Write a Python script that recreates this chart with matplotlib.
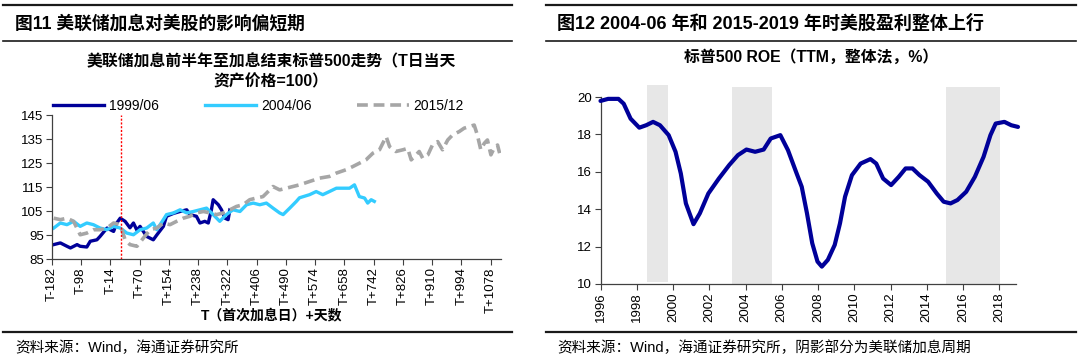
# 美联储加息与美股：标普500走势 & ROE
import matplotlib
matplotlib.use("Agg")
import matplotlib.pyplot as plt
from matplotlib.lines import Line2D

plt.rcParams['font.family'] = ['Liberation Sans', 'Noto Sans CJK SC', 'DejaVu Sans']
plt.rcParams['axes.unicode_minus'] = False

# ---- 左图数据: T日 = 100 ----
t_1999 = [-177, -158, -139, -129, -110, -101, -82, -72, -53, -44, -24, -5, 4, 14, 28, 42, 52, 62, 71,
          90, 109, 119, 138, 147, 167, 186, 205, 214, 233, 243, 257, 267, 276, 281, 296, 305, 315, 324, 329]
v_1999 = [91, 91.7, 90.3, 89.6, 91, 90.3, 90, 92.4, 93, 94.4, 97.9, 96.5, 100, 102, 100.7, 98, 100, 97, 98.6,
          94.4, 93, 95, 98.6, 102.8, 104, 104.8, 105.5, 103.5, 102.8, 100, 100.7, 100, 105.5, 109.7, 107.6,
          105.5, 102, 101.4, 105.5]

t_2004 = [-177, -158, -139, -120, -101, -82, -63, -44, -24, -5, 14, 33, 52, 71, 90, 109, 119, 138, 147, 167,
          186, 205, 224, 243, 262, 281, 300, 319, 338, 358, 377, 396, 415, 434, 453, 472, 482, 501, 520, 529,
          549, 558, 577, 596, 615, 635, 654, 673, 687, 701, 716, 725, 735, 744]
v_2004 = [97.9, 100, 99.3, 100.7, 98.6, 100, 99.3, 97.9, 97.2, 98.6, 97.9, 95.8, 95.1, 97.2, 97.9, 100, 97.2,
          101.4, 103.5, 104.2, 105.5, 104.2, 104.8, 105.5, 106.2, 103.5, 100.7, 103.5, 105.5, 104.8, 107.6,
          108.3, 107.6, 108.3, 106.2, 104.2, 103.5, 106.2, 109, 110.5, 111.4, 111.8, 113.1, 111.8, 113.1,
          114.5, 114.5, 114.5, 115.9, 111, 110.4, 108.3, 109.7, 109]

t_2015 = [-177, -158, -139, -120, -101, -82, -63, -44, -24, -5, 14, 28, 42, 62, 81, 100, 119, 138, 157, 176,
          195, 214, 233, 253, 272, 291, 310, 329, 348, 367, 386, 405, 424, 434, 453, 472, 491, 510, 529, 558,
          587, 615, 635, 663, 682, 701, 720, 740, 759, 778, 788, 806, 826, 840, 850, 864, 873, 883, 898, 911,
          926, 940, 955, 969, 988, 1002, 1017, 1031, 1040, 1050, 1060, 1069, 1079, 1088, 1098, 1104]
v_2015 = [102, 101.4, 102, 100.7, 95.1, 95.8, 97.2, 97.2, 97.9, 100, 99.3, 93, 91, 90.3, 93.8, 97.2, 97.9,
          100, 99.3, 100.7, 102, 102.8, 104.2, 104.8, 104.2, 103.5, 104.2, 105.5, 106.9, 107.6, 109.7, 110.4,
          111, 112.4, 115.2, 113.8, 114.5, 115.2, 115.9, 117.3, 118.7, 119.4, 120.8, 122.2, 123.5, 124.9,
          126.3, 129.1, 130.5, 136, 131.8, 129.8, 130.5, 131.1, 126.3, 128.4, 129.8, 127, 128.4, 132.5, 133.9,
          130.5, 134.6, 136.7, 138.1, 139.5, 140.2, 140.8, 136.7, 130.5, 133.2, 134.6, 128.4, 131.1, 132.5,
          129.1]

left_xticks = list(range(-182, 1079, 84))
left_xlabels = [f"T{t}" if t < 0 else f"T+{t}" for t in left_xticks]
left_yticks = [85, 95, 105, 115, 125, 135, 145]
hike_day = 16

# ---- 右图数据: 标普500 ROE ----
roe_year = [1996.0, 1996.42, 1996.99, 1997.28, 1997.66, 1998.14, 1998.52, 1998.9, 1999.28, 1999.76, 2000.14,
            2000.43, 2000.71, 2001.13, 2001.48, 2001.95, 2002.53, 2003.1, 2003.58, 2004.05, 2004.53, 2005.0,
            2005.39, 2005.92, 2006.34, 2006.82, 2007.1, 2007.39, 2007.68, 2007.97, 2008.21, 2008.54, 2008.92,
            2009.21, 2009.49, 2009.87, 2010.35, 2010.89, 2011.21, 2011.59, 2012.03, 2012.45, 2012.83, 2013.21,
            2013.6, 2014.07, 2014.55, 2014.93, 2015.31, 2015.69, 2016.17, 2016.65, 2017.13, 2017.51, 2017.8,
            2018.28, 2018.66, 2019.03]
roe_value = [19.79, 19.9, 19.9, 19.64, 18.84, 18.36, 18.49, 18.67, 18.49, 17.96, 17.07, 15.91, 14.31, 13.2,
             13.78, 14.84, 15.64, 16.36, 16.89, 17.19, 17.07, 17.19, 17.78, 17.96, 17.16, 15.91, 15.2, 13.78,
             12.18, 11.2, 10.93, 11.29, 12.09, 13.24, 14.67, 15.82, 16.44, 16.68, 16.44, 15.64, 15.29, 15.73,
             16.18, 16.18, 15.82, 15.47, 14.84, 14.4, 14.31, 14.49, 14.93, 15.73, 16.8, 17.96, 18.58, 18.67,
             18.49, 18.4]
band_start = [1998.56, 2003.25, 2015.08]
band_end = [1999.72, 2005.45, 2018.02]
band_top = [20.66, 20.55, 20.52]
band_bottom = [10.12, 10.0, 10.0]
right_xticks = list(range(1996, 2019, 2))
right_yticks = [10, 12, 14, 16, 18, 20]

W, H = 1080, 362
fig = plt.figure(figsize=(W / 100, H / 100), dpi=100)


def fx(x):
    return x / W


def fy(y):
    return 1 - y / H


def hline(x0, x1, y, lw):
    fig.add_artist(Line2D([fx(x0), fx(x1)], [fy(y), fy(y)], transform=fig.transFigure,
                          color='#1a1a1a', lw=lw))


# 分隔线与标题
for x0, x1 in [(3, 512), (546, 1076)]:
    hline(x0, x1, 5, 1.6)
    hline(x0, x1, 41, 1.2)
    hline(x0, x1, 332, 1.6)

fig.text(fx(15), fy(24), "图11 美联储加息对美股的影响偏短期", fontsize=12.8, fontweight='bold',
         va='center', ha='left')
fig.text(fx(557), fy(24), "图12 2004-06 年和 2015-2019 年时美股盈利整体上行", fontsize=13,
         fontweight='bold', va='center', ha='left')
fig.text(fx(15), fy(348), "资料来源：Wind，海通证券研究所", fontsize=10.5, va='center', ha='left')
fig.text(fx(557), fy(348), "资料来源：Wind，海通证券研究所，阴影部分为美联储加息周期", fontsize=10.5,
         va='center', ha='left')

fig.text(fx(271), fy(62), "美联储加息前半年至加息结束标普500走势（T日当天", fontsize=11.4,
         fontweight='bold', va='center', ha='center')
fig.text(fx(271), fy(82), "资产价格=100）", fontsize=11.4, fontweight='bold', va='center', ha='center')
fig.text(fx(811), fy(57), "标普500 ROE（TTM，整体法，%）", fontsize=11.4, fontweight='bold',
         va='center', ha='center')

# ---- 左图 ----
ax1 = fig.add_axes([fx(52), fy(259), fx(501 - 52), (259 - 115) / H])
ax1.plot(t_1999, v_1999, color='#000099', lw=2.4, label='1999/06', solid_joinstyle='round')
ax1.plot(t_2004, v_2004, color='#33CCFF', lw=2.4, label='2004/06', solid_joinstyle='round')
ax1.plot(t_2015, v_2015, color='#A6A6A6', lw=2.6, ls=(0, (3, 1.6)), label='2015/12')
ax1.axvline(hike_day, color='#FF0000', lw=1.0, ls=(0, (1.5, 1.2)))
ax1.set_xlim(-182, 1108)
ax1.set_ylim(85, 145)
ax1.set_xticks(left_xticks)
ax1.set_xticklabels(left_xlabels, rotation=90, fontsize=9.5)
ax1.set_yticks(left_yticks)
ax1.tick_params(axis='y', labelsize=9.5, length=4, color='#404040', pad=2)
ax1.tick_params(axis='x', length=4, color='#404040', pad=2)
for s in ['top', 'right']:
    ax1.spines[s].set_visible(False)
for s in ['left', 'bottom']:
    ax1.spines[s].set_color('#404040')
    ax1.spines[s].set_linewidth(0.9)
ax1.legend(loc='lower center', bbox_to_anchor=(0.46, 0.975), ncol=3, frameon=False, fontsize=10,
           handlelength=3.7, columnspacing=3.3, handletextpad=0.35, borderaxespad=0)
fig.text(fx(272), fy(315), "T（首次加息日）+天数", fontsize=10, fontweight='bold', va='center',
         ha='center')

# ---- 右图 ----
ax2 = fig.add_axes([fx(600.5), fy(284), fx(1016 - 600.5), (284 - 97) / H])
for s0, s1, top, bot in zip(band_start, band_end, band_top, band_bottom):
    ax2.fill_between([s0, s1], [bot, bot], [top, top], color='#E7E7E7', lw=0, clip_on=False, zorder=0)
ax2.plot(roe_year, roe_value, color='#000099', lw=3, clip_on=False, solid_capstyle='round',
         solid_joinstyle='round', zorder=3)
ax2.set_xlim(1996, 2018.92)
ax2.set_ylim(10, 20)
ax2.set_xticks(right_xticks)
ax2.set_xticklabels([str(y) for y in right_xticks], rotation=90, fontsize=9.5)
ax2.set_yticks(right_yticks)
ax2.tick_params(axis='y', labelsize=9.5, length=4, color='#404040', pad=2)
ax2.tick_params(axis='x', length=4, color='#404040', pad=2)
for s in ['top', 'right']:
    ax2.spines[s].set_visible(False)
for s in ['left', 'bottom']:
    ax2.spines[s].set_color('#404040')
    ax2.spines[s].set_linewidth(0.9)

fig.savefig('out.png', dpi=100)
